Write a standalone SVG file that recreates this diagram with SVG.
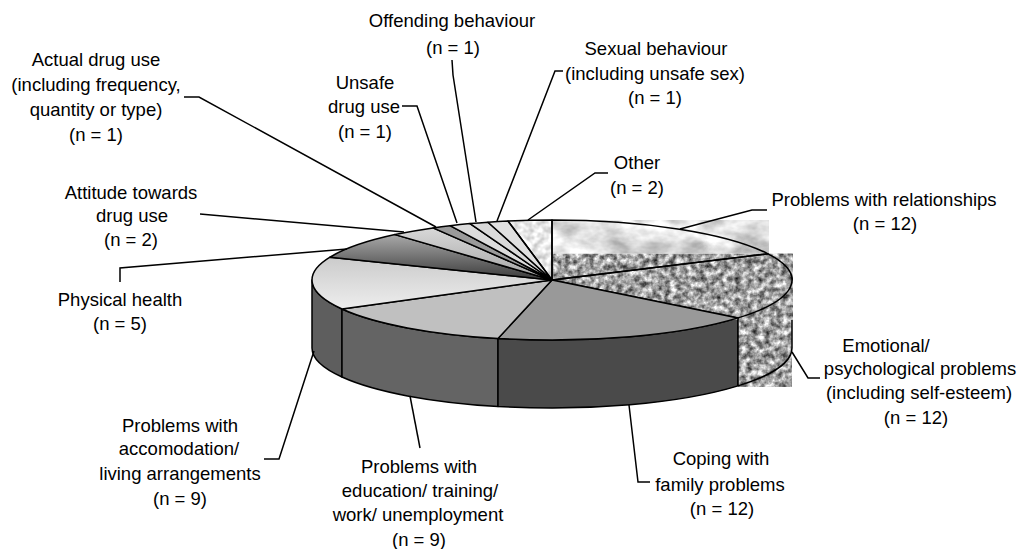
<svg xmlns="http://www.w3.org/2000/svg" width="1025" height="549" viewBox="0 0 1025 549">
<style>
.lbl{font-family:"Liberation Sans",Arial,sans-serif;font-size:18.5px;fill:#000;text-anchor:middle}
.edge{stroke:#000;stroke-width:1.5;stroke-linejoin:round}
.lead{fill:none;stroke:#000;stroke-width:1.5}
</style>
<defs>
<filter id="marble" x="0" y="0" width="1" height="1" color-interpolation-filters="sRGB">
<feTurbulence type="fractalNoise" baseFrequency="0.03 0.05" numOctaves="4" seed="7" result="n"/>
<feColorMatrix in="n" type="matrix" values="0.7 0 0 0 0.54 0.7 0 0 0 0.54 0.7 0 0 0 0.54 0 0 0 0 1" result="g"/>
<feComposite in="g" in2="SourceGraphic" operator="in"/>
</filter>
<filter id="granite" x="0" y="0" width="1" height="1" color-interpolation-filters="sRGB">
<feTurbulence type="fractalNoise" baseFrequency="0.17" numOctaves="3" seed="2" result="n"/>
<feColorMatrix in="n" type="matrix" values="1.25 0 0 0 0.0 1.25 0 0 0 0.0 1.25 0 0 0 0.0 0 0 0 0 1" result="g"/>
<feComposite in="g" in2="SourceGraphic" operator="in"/>
</filter>
<filter id="speck" x="0" y="0" width="1" height="1" color-interpolation-filters="sRGB">
<feTurbulence type="fractalNoise" baseFrequency="0.15" numOctaves="2" seed="5" result="n"/>
<feColorMatrix in="n" type="matrix" values="0.5 0 0 0 0.66 0.5 0 0 0 0.66 0.5 0 0 0 0.66 0 0 0 0 1" result="g"/>
<feComposite in="g" in2="SourceGraphic" operator="in"/>
</filter>
<linearGradient id="gAcc" gradientUnits="userSpaceOnUse" x1="0" y1="257" x2="0" y2="310">
<stop offset="0" stop-color="#cbcbcb"/><stop offset="1" stop-color="#eeeeee"/>
</linearGradient>
<linearGradient id="gPhys" gradientUnits="userSpaceOnUse" x1="0" y1="235" x2="0" y2="280">
<stop offset="0" stop-color="#a8a8a8"/><stop offset="1" stop-color="#3a3a3a"/>
</linearGradient>
<linearGradient id="gAtt" gradientUnits="userSpaceOnUse" x1="0" y1="228" x2="0" y2="280">
<stop offset="0" stop-color="#d8d8d8"/><stop offset="1" stop-color="#a4a4a4"/>
</linearGradient>
</defs>

<g id="sides">
<path id="side-accommodation" class="edge" fill="#5e5e5e" d="M312,280 L312,348 A240,60 0 0 0 342,377 L342,309 A240,60 0 0 1 312,280 Z"/>
<path id="side-education" class="edge" fill="#646464" d="M342,309 L342,377 A240,60 0 0 0 498,406.5 L498,338.5 A240,60 0 0 1 342,309 Z"/>
<path id="side-coping" class="edge" fill="#4a4a4a" d="M498,338.5 L498,406.5 A240,60 0 0 0 738,385.9 L738,317.9 A240,60 0 0 1 498,338.5 Z"/>
</g>

<g id="textures">
<path fill="#fff" filter="url(#granite)" d="M552,253.5 H793 V320 H792 V387 H738 V320 H552 Z"/>
<rect x="552" y="220" width="217" height="33.5" fill="#fff" filter="url(#marble)"/>
<path fill="#fff" filter="url(#speck)" d="M552,280 L508,221 A240,60 0 0 1 552,220 Z"/>
</g>

<g id="slice-relationships"><path class="edge" fill="none" d="M552,280 L552,220 A240,60 0 0 1 768,253.8 Z"/></g>
<g id="slice-emotional"><path class="edge" fill="none" d="M552,280 L768,253.8 A240,60 0 0 1 738,317.9 Z"/>
<path class="edge" fill="none" d="M738,317.9 L738,385.9 M792,320 L792,348 A240,60 0 0 1 738,385.9"/></g>
<g id="slice-coping"><path class="edge" fill="#999999" d="M552,280 L738,317.9 A240,60 0 0 1 498,338.5 Z"/></g>
<g id="slice-education"><path class="edge" fill="#c0c0c0" d="M552,280 L498,338.5 A240,60 0 0 1 342,309 Z"/></g>
<g id="slice-accommodation"><path class="edge" fill="url(#gAcc)" d="M552,280 L342,309 A240,60 0 0 1 330,257.2 Z"/></g>
<g id="slice-physical"><path class="edge" fill="url(#gPhys)" d="M552,280 L330,257.2 A240,60 0 0 1 395,234.6 Z"/></g>
<g id="slice-attitude"><path class="edge" fill="url(#gAtt)" d="M552,280 L395,234.6 A240,60 0 0 1 433,227.9 Z"/></g>
<g id="slice-actual"><path class="edge" fill="#9a9a9a" d="M552,280 L433,227.9 A240,60 0 0 1 450,225.7 Z"/></g>
<g id="slice-unsafe"><path class="edge" fill="#dcdcdc" d="M552,280 L450,225.7 A240,60 0 0 1 470,223.6 Z"/></g>
<g id="slice-offending"><path class="edge" fill="#d9d9d9" d="M552,280 L470,223.6 A240,60 0 0 1 488,222.2 Z"/></g>
<g id="slice-sexual"><path class="edge" fill="#e0e0e0" d="M552,280 L488,222.2 A240,60 0 0 1 508,221 Z"/></g>
<g id="slice-other"><path class="edge" fill="none" d="M552,280 L508,221 A240,60 0 0 1 552,220 Z"/></g>

<g id="connectors">
<polyline class="lead" points="184,97 199,97 436,227"/>
<polyline class="lead" points="200,214 404,232"/>
<polyline class="lead" points="120,282 120,268 347,249"/>
<polyline class="lead" points="402,106 417,106 457,223"/>
<polyline class="lead" points="452,60 453,75 476,222"/>
<polyline class="lead" points="563,71 555,71 497,221"/>
<polyline class="lead" points="608,173 595,173 528,220"/>
<polyline class="lead" points="767,210 752,210 680,229"/>
<polyline class="lead" points="792,352 808,378 820,378"/>
<polyline class="lead" points="629,405 638,482 650,482"/>
<polyline class="lead" points="410,396 420,448"/>
<polyline class="lead" points="314,351 279,459 264,459"/>
</g>

<g id="label-offending"><text class="lbl" x="452" y="26.5">Offending behaviour</text><text class="lbl" x="453" y="53.5">(n = 1)</text></g>
<g id="label-actual"><text class="lbl" x="96" y="66">Actual drug use</text><text class="lbl" x="96" y="91">(including frequency,</text><text class="lbl" x="96" y="116">quantity or type)</text><text class="lbl" x="96" y="141">(n = 1)</text></g>
<g id="label-unsafe"><text class="lbl" x="365" y="88.5">Unsafe</text><text class="lbl" x="364" y="112.5">drug use</text><text class="lbl" x="365" y="137.5">(n = 1)</text></g>
<g id="label-attitude"><text class="lbl" x="131" y="198.5">Attitude towards</text><text class="lbl" x="132" y="221.5">drug use</text><text class="lbl" x="131" y="245.5">(n = 2)</text></g>
<g id="label-physical"><text class="lbl" x="120" y="305.5">Physical health</text><text class="lbl" x="120" y="329.5">(n = 5)</text></g>
<g id="label-sexual"><text class="lbl" x="656" y="54.5">Sexual behaviour</text><text class="lbl" x="655" y="79.5">(including unsafe sex)</text><text class="lbl" x="655" y="103.5">(n = 1)</text></g>
<g id="label-other"><text class="lbl" x="637" y="168.5">Other</text><text class="lbl" x="637" y="193.5">(n = 2)</text></g>
<g id="label-relationships"><text class="lbl" x="884" y="205.5">Problems with relationships</text><text class="lbl" x="885" y="229.5">(n = 12)</text></g>
<g id="label-emotional"><text class="lbl" x="886" y="351.5">Emotional/</text><text class="lbl" x="920" y="374.5">psychological problems</text><text class="lbl" x="919" y="398.5">(including self-esteem)</text><text class="lbl" x="916" y="423.5">(n = 12)</text></g>
<g id="label-coping"><text class="lbl" x="721" y="464.5">Coping with</text><text class="lbl" x="720" y="490.5">family problems</text><text class="lbl" x="722" y="514.5">(n = 12)</text></g>
<g id="label-education"><text class="lbl" x="419" y="472.5">Problems with</text><text class="lbl" x="420" y="496.5">education/ training/</text><text class="lbl" x="418" y="520.5">work/ unemployment</text><text class="lbl" x="419" y="546">(n = 9)</text></g>
<g id="label-accommodation"><text class="lbl" x="180" y="431.5">Problems with</text><text class="lbl" x="179" y="454.5">accomodation/</text><text class="lbl" x="180" y="479.5">living arrangements</text><text class="lbl" x="180" y="504.5">(n = 9)</text></g>
</svg>
